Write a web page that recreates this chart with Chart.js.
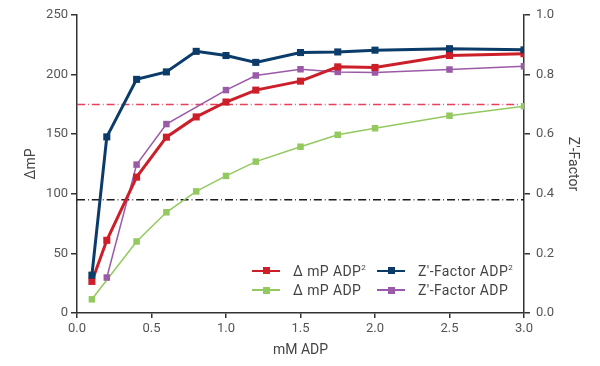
<!DOCTYPE html>
<html>
<head>
<meta charset="utf-8">
<script src="https://cdn.jsdelivr.net/npm/chart.js@4.4.1/dist/chart.umd.min.js"></script>
<style>
  html, body { margin: 0; padding: 0; background: #fff; }
  #wrap { position: relative; width: 600px; height: 366px; }
  canvas { position: absolute; left: 0; top: 0; }
  .lg { position: absolute; font-family: Roboto, "Liberation Sans", sans-serif; font-size: 14px; letter-spacing: 0.4px; color: #444; white-space: nowrap; line-height: 16px; }
  .lg sup { font-size: 8px; vertical-align: 6px; line-height: 0; }
  .ll { position: absolute; height: 2px; width: 28px; }
  .lm { position: absolute; width: 7px; height: 7px; }
</style>
</head>
<body>
<div id="wrap"><canvas id="c" width="600" height="366"></canvas></div>
<script>
// ---- data ----
const xADP2 = [0.1, 0.2, 0.4, 0.6, 0.8, 1.0, 1.2, 1.5, 1.75, 2.0, 2.5, 3.0];
const mpADP2 = [26.5, 61, 114, 147.5, 164.5, 177, 187, 194.5, 206.5, 206, 216, 217.5];
const zADP2 = [0.127, 0.591, 0.784, 0.809, 0.878, 0.864, 0.841, 0.874, 0.876, 0.882, 0.887, 0.883];

const xMpADP = [0.1, 0.4, 0.6, 0.8, 1.0, 1.2, 1.5, 1.75, 2.0, 2.5, 3.0];
const mpADP = [11.5, 60, 84.5, 102, 115, 127, 139.5, 149.5, 155, 165.5, 173.5];

const xZADP = [0.2, 0.4, 0.6, 1.0, 1.2, 1.5, 1.75, 2.0, 2.5, 3.0];
const zADP = [0.119, 0.498, 0.634, 0.748, 0.797, 0.818, 0.809, 0.807, 0.817, 0.828];

const thresholdRed = 175;
const thresholdBlack = 95;
const xRange = [0, 3];

const xTicks = [0, 0.5, 1.0, 1.5, 2.0, 2.5, 3.0];
const leftTicks = [0, 50, 100, 150, 200, 250];
const rightTicks = [0, 0.2, 0.4, 0.6, 0.8, 1.0];

const labels = {
  mpADP2: 'Δ mP ADP<sup>2</sup>',
  mpADP: 'Δ mP ADP',
  zADP2: 'Z\'-Factor ADP<sup>2</sup>',
  zADP: 'Z\'-Factor ADP'
};
const colors = {
  red: '#cc1f2a', green: '#93c95f', navy: '#0b3c69', purple: '#9b5aa8',
  dashRed: '#e8405c', dashBlack: '#1a1a1a'
};

const pts = (xs, ys) => xs.map((x, i) => ({ x: x, y: ys[i] }));

const FONT = 'Roboto, "Liberation Sans", sans-serif';
const TICKCOL = '#555';
const AXCOL = '#333';

const datasets = [
  { label: 'Z\'-Factor ADP2', data: pts(xADP2, zADP2), yAxisID: 'y2',
    borderColor: colors.navy, backgroundColor: colors.navy, borderWidth: 3,
    pointStyle: 'rect', pointRadius: 5, pointBorderWidth: 0, pointHoverRadius: 5 },
  { label: 'ΔmP ADP2', data: pts(xADP2, mpADP2), yAxisID: 'y',
    borderColor: colors.red, backgroundColor: colors.red, borderWidth: 3,
    pointStyle: 'rect', pointRadius: 5, pointBorderWidth: 0, pointHoverRadius: 5 },
  { label: 'Z\'-Factor ADP', data: pts(xZADP, zADP), yAxisID: 'y2',
    borderColor: colors.purple, backgroundColor: colors.purple, borderWidth: 1.5,
    pointStyle: 'rect', pointRadius: 4.6, pointBorderWidth: 0, pointHoverRadius: 4.6 },
  { label: 'ΔmP ADP', data: pts(xMpADP, mpADP), yAxisID: 'y',
    borderColor: colors.green, backgroundColor: colors.green, borderWidth: 1.5,
    pointStyle: 'rect', pointRadius: 4.6, pointBorderWidth: 0, pointHoverRadius: 4.6 },
  { label: 'thrRed', data: [{ x: xRange[0], y: thresholdRed }, { x: xRange[1], y: thresholdRed }], yAxisID: 'y',
    borderColor: colors.dashRed, borderWidth: 1.5, borderDash: [8, 3, 0.8, 3], pointRadius: 0 },
  { label: 'thrBlack', data: [{ x: xRange[0], y: thresholdBlack }, { x: xRange[1], y: thresholdBlack }], yAxisID: 'y',
    borderColor: colors.dashBlack, borderWidth: 1.5, borderDash: [8, 3, 0.8, 3], pointRadius: 0 }
];

const fixW = (w) => (s) => { s.width = w; };
const fixH = (h) => (s) => { s.height = h; };

const chart = new Chart(document.getElementById('c'), {
  type: 'line',
  data: { datasets: datasets },
  options: {
    responsive: false,
    animation: false,
    devicePixelRatio: 1,
    layout: { padding: { top: 15, left: 0, right: 0, bottom: 0 } },
    plugins: { legend: { display: false }, tooltip: { enabled: false } },
    scales: {
      x: {
        type: 'linear', position: 'bottom', min: xRange[0], max: xRange[1],
        afterBuildTicks: (s) => { s.ticks = xTicks.map(v => ({ value: v })); },
        afterFit: fixH(53),
        ticks: { callback: (v) => Number(v).toFixed(1), color: TICKCOL, font: { family: FONT, size: 13 }, padding: 3, maxRotation: 0, autoSkip: false },
        grid: { drawOnChartArea: false, drawTicks: true, tickLength: 5, color: AXCOL, lineWidth: 1.5 },
        border: { display: true, color: AXCOL, width: 1.5 },
        title: { display: true, text: 'mM ADP', color: '#444', font: { family: FONT, size: 14 }, padding: { top: 7.6, bottom: 7.6 } }
      },
      y: {
        type: 'linear', position: 'left', min: 0, max: 250,
        afterBuildTicks: (s) => { s.ticks = leftTicks.map(v => ({ value: v })); },
        afterFit: fixW(77),
        ticks: { color: TICKCOL, font: { family: FONT, size: 13 }, padding: 3 },
        grid: { drawOnChartArea: false, drawTicks: true, tickLength: 6, color: AXCOL, lineWidth: 1.5 },
        border: { display: true, color: AXCOL, width: 1.5 },
        title: { display: true, text: 'ΔmP', color: '#444', font: { family: FONT, size: 14 }, padding: { top: 22.6, bottom: 0 } }
      },
      y2: {
        type: 'linear', position: 'right', min: 0, max: 1,
        afterBuildTicks: (s) => { s.ticks = rightTicks.map(v => ({ value: v })); },
        afterFit: fixW(76),
        ticks: { callback: (v) => Number(v).toFixed(1), color: TICKCOL, font: { family: FONT, size: 13 }, padding: 6 },
        grid: { drawOnChartArea: false, drawTicks: true, tickLength: 6, color: AXCOL, lineWidth: 1.5 },
        border: { display: true, color: AXCOL, width: 1.5 },
        title: { display: true, text: 'Z\'-Factor', color: '#444', font: { family: FONT, size: 14 }, padding: { top: 19.6, bottom: 0 } }
      }
    }
  }
});

// ---- HTML legend (inside plot area, lower right) ----
const legendItems = [
  { html: labels.mpADP2, color: colors.red, col: 0, row: 0 },
  { html: labels.mpADP, color: colors.green, col: 0, row: 1 },
  { html: labels.zADP2, color: colors.navy, col: 1, row: 0 },
  { html: labels.zADP, color: colors.purple, col: 1, row: 1 }
];
const colX = [252, 377];
const rowY = [270.5, 290];
const wrap = document.getElementById('wrap');
legendItems.forEach(it => {
  const x = colX[it.col], y = rowY[it.row];
  const l = document.createElement('div');
  l.className = 'll';
  l.style.left = x + 'px'; l.style.top = (y - 1) + 'px'; l.style.background = it.color;
  wrap.appendChild(l);
  const m = document.createElement('div');
  m.className = 'lm';
  m.style.left = (x + 10.5) + 'px'; m.style.top = (y - 3.5) + 'px'; m.style.background = it.color;
  wrap.appendChild(m);
  const t = document.createElement('div');
  t.className = 'lg';
  t.innerHTML = it.html;
  t.style.left = (x + 41) + 'px'; t.style.top = (y - 8) + 'px';
  wrap.appendChild(t);
});
</script>
</body>
</html>
